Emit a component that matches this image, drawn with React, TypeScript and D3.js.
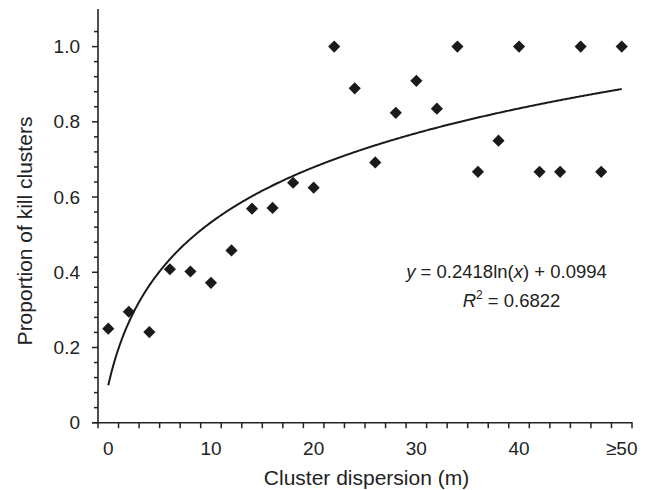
import React from "react";
import * as d3 from "d3";

const categories = ["0","2","4","6","8","10","12","14","16","18","20","22","24","26","28","30","32","34","36","38","40","42","44","46","48","≥50"];
const proportions = [0.25,0.295,0.241,0.408,0.402,0.372,0.458,0.569,0.571,0.638,0.625,1.0,0.889,0.692,0.824,0.909,0.835,1.0,0.667,0.75,1.0,0.667,0.667,1.0,0.667,1.0];
const xTickLabels = ["0","10","20","30","40","≥50"];
const yMajorTicks = [0,0.2,0.4,0.6,0.8,1.0];
const yTickLabels = ["0","0.2","0.4","0.6","0.8","1.0"];
const trendSlope = 0.2418;
const trendIntercept = 0.0994;
const rSquared = "0.6822";

const W = 651, H = 490;
const FONT = "'Liberation Sans', Arial, Helvetica, sans-serif";

export default function App() {
  const x = d3.scaleBand<string>().domain(categories).range([98, 632]).paddingInner(0).paddingOuter(0);
  const bw = x.bandwidth();
  const cx = (c: string) => (x(c) as number) + bw / 2;
  const y = d3.scaleLinear().domain([0, 1.1]).range([422.7, 9]);
  const xt = d3.scaleLinear().domain([0, categories.length - 1]).range([cx(categories[0]), cx(categories[categories.length - 1])]);

  const minorTicks = d3.range(0, 27).map(i => +(i * 0.04).toFixed(2)).filter(v => !yMajorTicks.some(m => Math.abs(m - v) < 1e-6));
  const boundaries = d3.range(0, categories.length + 1).map(i => 98 + i * bw);

  const trendPts: [number, number][] = d3.range(0, categories.length - 1 + 0.001, 0.05).map(t => [t, trendSlope * Math.log(t + 1) + trendIntercept]);
  const line = d3.line<[number, number]>().x(d => xt(d[0])).y(d => y(d[1])).curve(d3.curveLinear);
  const diamond = d3.symbol().type(d3.symbolSquare).size(74)();

  return (
    <svg width={W} height={H} style={{ position: "absolute", left: 0, top: 0, background: "#fff" }} fontFamily={FONT}>
      {/* y axis */}
      <line x1={98} x2={98} y1={y(0)} y2={y(1.1)} stroke="#222" strokeWidth={1.6} />
      {yMajorTicks.map((v, i) => (
        <g key={"ym" + i}>
          <line x1={92} x2={98} y1={y(v)} y2={y(v)} stroke="#222" strokeWidth={1.5} />
          <text x={80} y={y(v) + 6.5} textAnchor="end" fontSize={19} fill="#222">{yTickLabels[i]}</text>
        </g>
      ))}
      {minorTicks.map((v, i) => (
        <line key={"yn" + i} x1={94} x2={98} y1={y(v)} y2={y(v)} stroke="#222" strokeWidth={1.5} />
      ))}
      {/* x axis */}
      <line x1={92} x2={632.5} y1={y(0)} y2={y(0)} stroke="#222" strokeWidth={1.6} />
      {boundaries.map((b, i) => (
        <line key={"xb" + i} x1={b} x2={b} y1={y(0)} y2={y(0) + 5.5} stroke="#222" strokeWidth={1.5} />
      ))}
      {xTickLabels.map((l, i) => (
        <text key={"xl" + i} x={cx(categories[i * 5])} y={455} textAnchor="middle" fontSize={19} fill="#222">{l}</text>
      ))}
      {/* titles */}
      <text x={366.5} y={485} textAnchor="middle" fontSize={21} fill="#222">Cluster dispersion (m)</text>
      <text transform={`translate(32,231) rotate(-90)`} textAnchor="middle" fontSize={21} fill="#222">Proportion of kill clusters</text>
      {/* trend line */}
      <path d={line(trendPts) || ""} fill="none" stroke="#1a1a1a" strokeWidth={2} />
      {/* points */}
      {categories.map((c, i) => (
        <path key={"p" + i} d={diamond || ""} transform={`translate(${cx(c)},${y(proportions[i])}) rotate(45)`} fill="#1a1a1a" />
      ))}
      {/* equation */}
      <text x={506.5} y={278.3} textAnchor="middle" fontSize={18.5} fill="#222">
        <tspan fontStyle="italic">y</tspan>{` = ${trendSlope}ln(`}<tspan fontStyle="italic">x</tspan>{`) + ${trendIntercept}`}
      </text>
      <text x={511.5} y={306.7} textAnchor="middle" fontSize={18.5} fill="#222">
        <tspan fontStyle="italic">R</tspan><tspan fontSize={12} dy={-8}>2</tspan><tspan dy={8}>{` = ${rSquared}`}</tspan>
      </text>
    </svg>
  );
}
